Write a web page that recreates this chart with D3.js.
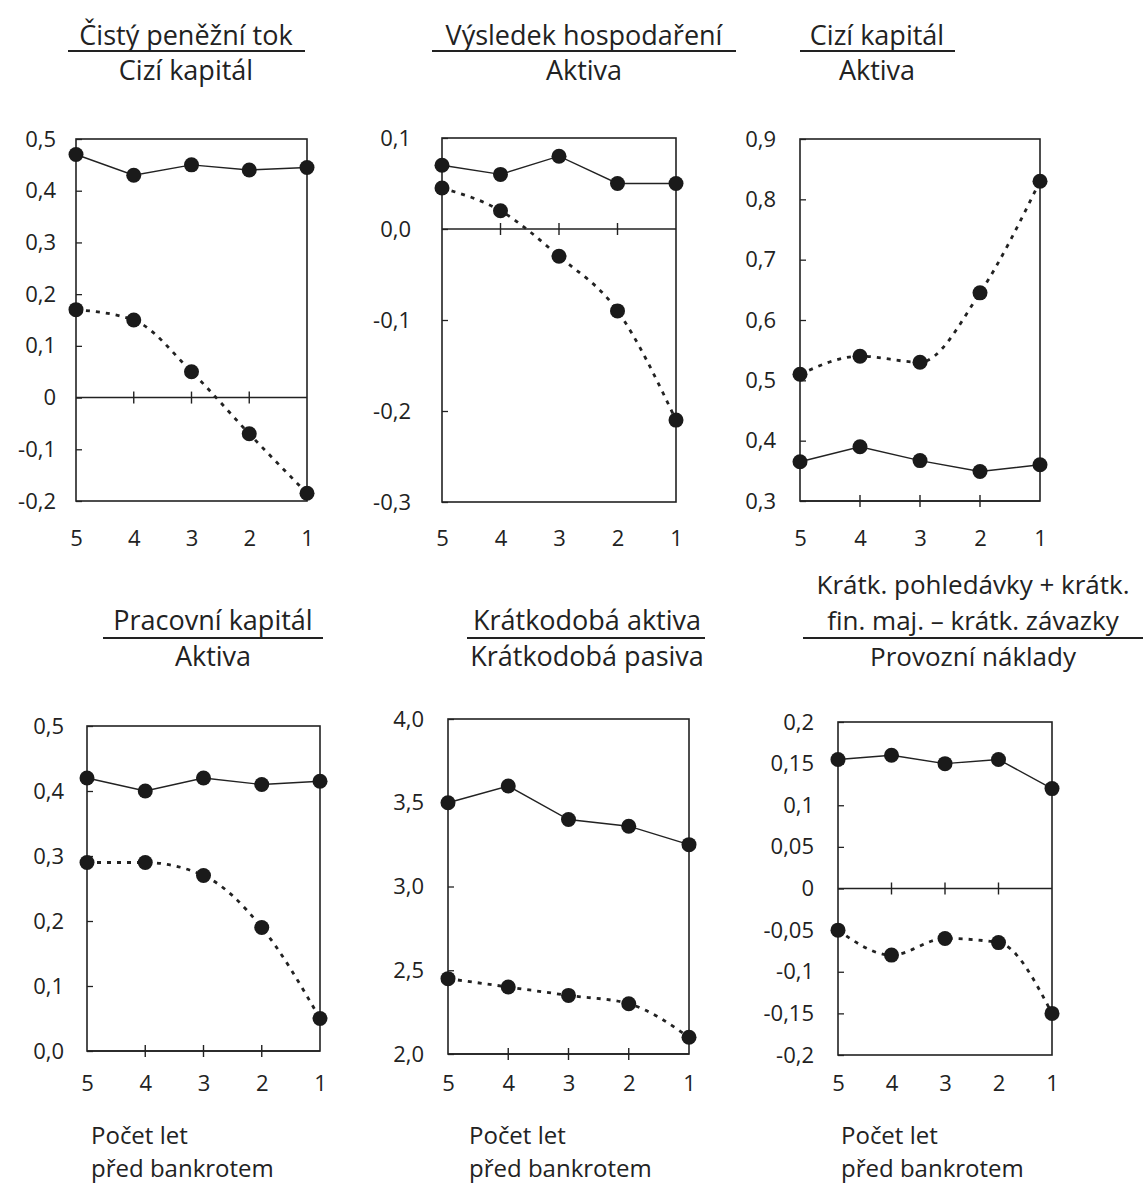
<!DOCTYPE html>
<html><head><meta charset="utf-8">
<script src="https://cdn.jsdelivr.net/npm/d3@7"></script>
<style>
body{margin:0;background:#fff}
svg{display:block}
text{font-family:"Open Sans","Noto Sans",sans-serif;fill:#222}
</style>
</head><body>
<svg id="c" width="1146" height="1185"></svg>
<script>
// ---------- DATA ----------
const years = [5, 4, 3, 2, 1];

const p1Solid  = [0.47, 0.43, 0.45, 0.44, 0.445];
const p1Dashed = [0.17, 0.15, 0.05, -0.07, -0.185];
const p1Ticks  = [0.5, 0.4, 0.3, 0.2, 0.1, 0, -0.1, -0.2];
const p1Labels = ["0,5","0,4","0,3","0,2","0,1","0","-0,1","-0,2"];

const p2Solid  = [0.07, 0.06, 0.08, 0.05, 0.05];
const p2Dashed = [0.045, 0.02, -0.03, -0.09, -0.21];
const p2Ticks  = [0.1, 0, -0.1, -0.2, -0.3];
const p2Labels = ["0,1","0,0","-0,1","-0,2","-0,3"];

const p3Solid  = [0.365, 0.39, 0.367, 0.349, 0.36];
const p3Dashed = [0.51, 0.54, 0.53, 0.645, 0.83];
const p3Ticks  = [0.9, 0.8, 0.7, 0.6, 0.5, 0.4, 0.3];
const p3Labels = ["0,9","0,8","0,7","0,6","0,5","0,4","0,3"];

const p4Solid  = [0.42, 0.40, 0.42, 0.41, 0.415];
const p4Dashed = [0.29, 0.29, 0.27, 0.19, 0.05];
const p4Ticks  = [0.5, 0.4, 0.3, 0.2, 0.1, 0];
const p4Labels = ["0,5","0,4","0,3","0,2","0,1","0,0"];

const p5Solid  = [3.5, 3.6, 3.4, 3.36, 3.25];
const p5Dashed = [2.45, 2.4, 2.35, 2.3, 2.1];
const p5Ticks  = [4, 3.5, 3, 2.5, 2];
const p5Labels = ["4,0","3,5","3,0","2,5","2,0"];

const p6Solid  = [0.155, 0.16, 0.15, 0.155, 0.12];
const p6Dashed = [-0.05, -0.08, -0.06, -0.065, -0.15];
const p6Ticks  = [0.2, 0.15, 0.1, 0.05, 0, -0.05, -0.1, -0.15, -0.2];
const p6Labels = ["0,2","0,15","0,1","0,05","0","-0,05","-0,1","-0,15","-0,2"];

const numerators = [
  ["Čistý peněžní tok"],
  ["Výsledek hospodaření"],
  ["Cizí kapitál"],
  ["Pracovní kapitál"],
  ["Krátkodobá aktiva"],
  ["Krátk. pohledávky + krátk.", "fin. maj. – krátk. závazky"]
];
const denominators = ["Cizí kapitál", "Aktiva", "Aktiva", "Aktiva", "Krátkodobá pasiva", "Provozní náklady"];
const footerLines = ["Počet let", "před bankrotem"];

// ---------- LAYOUT ----------
const panels = [
  {solid:p1Solid, dashed:p1Dashed, ticks:p1Ticks, labels:p1Labels, dom:[-0.2,0.5], base:0,
   x0:76, x1:307, y0:139, y1:501, gap:20, xl:538, cx:186, ul:[68,305], nb:[45], ub:51, db:80, fs:27},
  {solid:p2Solid, dashed:p2Dashed, ticks:p2Ticks, labels:p2Labels, dom:[-0.3,0.1], base:0,
   x0:442, x1:676, y0:138, y1:502, gap:31, xl:538, cx:584, ul:[432,736], nb:[45], ub:51, db:80, fs:27},
  {solid:p3Solid, dashed:p3Dashed, ticks:p3Ticks, labels:p3Labels, dom:[0.3,0.9], base:0.3,
   x0:800, x1:1040, y0:139, y1:501, gap:24, xl:538, cx:877, ul:[800,955], nb:[45], ub:51, db:80, fs:27},
  {solid:p4Solid, dashed:p4Dashed, ticks:p4Ticks, labels:p4Labels, dom:[0,0.5], base:0,
   x0:87, x1:320, y0:726, y1:1051, gap:23, xl:1083, cx:213, ul:[103,323], nb:[630], ub:638, db:666, fs:27},
  {solid:p5Solid, dashed:p5Dashed, ticks:p5Ticks, labels:p5Labels, dom:[2,4], base:2,
   x0:448, x1:689, y0:719, y1:1054, gap:24, xl:1083, cx:587, ul:[467,705], nb:[630], ub:638, db:666, fs:27},
  {solid:p6Solid, dashed:p6Dashed, ticks:p6Ticks, labels:p6Labels, dom:[-0.2,0.2], base:0,
   x0:838, x1:1052, y0:722, y1:1055, gap:24, xl:1083, cx:973, ul:[803,1143], nb:[594,630], ub:638, db:666, fs:26}
];
const footerX = [91, 469, 841];
const footerY = [1144, 1177];

const ink = "#222";
const svg = d3.select("#c");
const ff = '"Open Sans","Noto Sans",sans-serif';

panels.forEach((p, i) => {
  const x = d3.scalePoint().domain(years).range([p.x0, p.x1]);
  const y = d3.scaleLinear().domain(p.dom).range([p.y1, p.y0]);
  const g = svg.append("g");

  // frame
  g.append("rect").attr("x", p.x0).attr("y", p.y0)
    .attr("width", p.x1 - p.x0).attr("height", p.y1 - p.y0)
    .attr("fill", "none").attr("stroke", ink).attr("stroke-width", 1.6);

  // y axis (inner ticks)
  const ya = d3.axisLeft(y).tickValues(p.ticks)
    .tickFormat((d, k) => p.labels[k]).tickSize(-6).tickPadding(p.gap);
  const yg = g.append("g").attr("transform", `translate(${p.x0},0)`).call(ya);
  yg.select(".domain").remove();
  yg.selectAll(".tick line").attr("stroke", ink).attr("stroke-width", 1.3);
  yg.selectAll(".tick text").attr("font-size", 22).attr("fill", ink).style("font-family", ff);

  // baseline with crossing ticks
  const by = y(p.base);
  g.append("line").attr("x1", p.x0).attr("x2", p.x1).attr("y1", by).attr("y2", by)
    .attr("stroke", ink).attr("stroke-width", 1.6);
  g.selectAll(".xt").data(years.slice(1, 4)).join("line")
    .attr("x1", d => x(d)).attr("x2", d => x(d))
    .attr("y1", by - 6).attr("y2", by + 6)
    .attr("stroke", ink).attr("stroke-width", 1.4);

  // x labels
  const xa = d3.axisBottom(x).tickSize(0).tickPadding(0);
  const xg = g.append("g").attr("transform", `translate(0,${p.xl})`).call(xa);
  xg.select(".domain").remove();
  xg.selectAll(".tick text").attr("font-size", 22).attr("fill", ink).attr("dy", "0.35em")
    .style("font-family", ff);

  // lines
  const lineS = d3.line().x((d, k) => x(years[k])).y(d => y(d));
  const lineD = d3.line().x((d, k) => x(years[k])).y(d => y(d)).curve(d3.curveMonotoneX);
  g.append("path").attr("d", lineS(p.solid)).attr("fill", "none")
    .attr("stroke", ink).attr("stroke-width", 1.4);
  g.append("path").attr("d", lineD(p.dashed)).attr("fill", "none")
    .attr("stroke", ink).attr("stroke-width", 2.8).attr("stroke-dasharray", "4,6");

  // markers
  [p.solid, p.dashed].forEach(s => {
    g.selectAll(null).data(s).join("circle")
      .attr("cx", (d, k) => x(years[k])).attr("cy", d => y(d)).attr("r", 7.5)
      .attr("fill", "#1a1a1a");
  });

  // titles
  numerators[i].forEach((t, k) => {
    g.append("text").attr("x", p.cx).attr("y", p.nb[k]).attr("text-anchor", "middle")
      .attr("font-size", p.fs).text(t);
  });
  g.append("line").attr("x1", p.ul[0]).attr("x2", p.ul[1]).attr("y1", p.ub).attr("y2", p.ub)
    .attr("stroke", ink).attr("stroke-width", 2);
  g.append("text").attr("x", p.cx).attr("y", p.db).attr("text-anchor", "middle")
    .attr("font-size", p.fs).text(denominators[i]);
});

// footers
footerX.forEach(fx => {
  footerLines.forEach((t, k) => {
    svg.append("text").attr("x", fx).attr("y", footerY[k]).attr("font-size", 24).text(t);
  });
});
</script>
</body></html>
